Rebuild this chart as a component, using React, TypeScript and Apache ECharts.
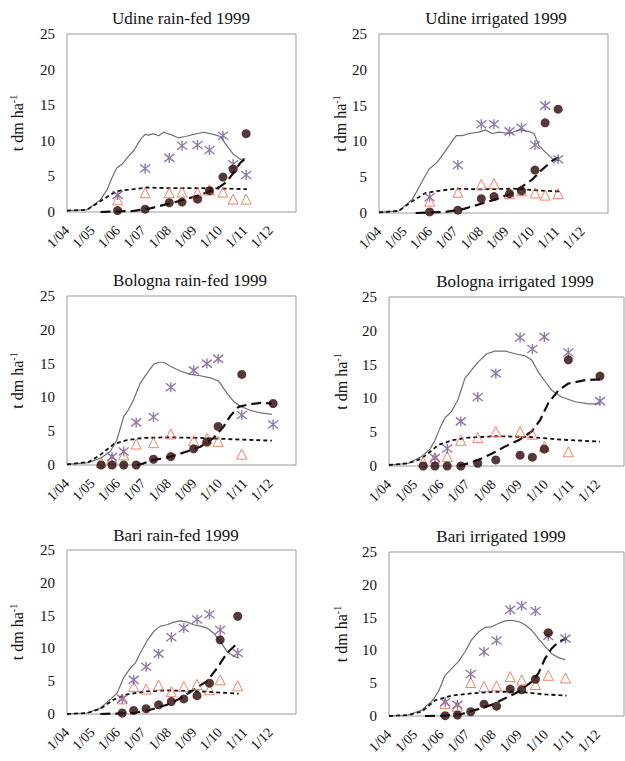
import React, { useEffect, useRef } from 'react';
import * as echarts from 'echarts';

const FONT = '"Liberation Serif", "Times New Roman", serif';
const monthLabels = ['1/04', '1/05', '1/06', '1/07', '1/08', '1/09', '1/10', '1/11', '1/12'];

// x = months after 1 April 1999, y = t dm ha-1
// ---- Udine rain-fed
const udineRfSolid = [[0,0.2],[0.78,0.3],[1.31,1.7],[1.57,3.1],[1.77,4.8],[1.96,6.2],[2.16,6.7],[2.36,7.6],[2.62,8.6],[2.89,10.2],[3.07,10.9],[3.21,10.8],[3.4,11.0],[3.6,10.7],[3.8,11.2],[4.06,10.9],[4.38,10.4],[4.65,10.6],[4.98,10.9],[5.37,11.2],[5.76,10.9],[6.03,10.6],[6.29,9.3],[6.54,8.1],[6.81,7.4],[7.01,7.5]];
const udineRfShort = [[0,0.2],[0.78,0.3],[1.31,1.5],[1.83,2.7],[2.09,3.0],[2.62,3.2],[3.14,3.45],[3.93,3.35],[5.24,3.35],[6.54,3.26],[7.07,3.2]];
const udineRfLong = [[1.32,0],[2.62,0.15],[3.27,0.5],[3.93,1.1],[4.58,1.7],[5.24,2.4],[5.76,3.1],[6.03,3.6],[6.29,4.3],[6.54,5.5],[6.81,6.9],[7.07,7.7]];
const udineRfDates = [1.99, 3.07, 4.02, 4.52, 5.13, 5.6, 6.13, 6.53, 7.04];
const udineRfStars = [2.4, 6.1, 7.6, 9.3, 9.4, 8.7, 10.7, 6.7, 5.2];
const udineRfTris = [1.7, 2.7, 2.7, 2.8, 2.7, 3.1, 2.8, 1.8, 1.8];
const udineRfDots = [0.2, 0.4, 1.3, 1.4, 1.8, 3.0, 4.9, 6.0, 11.0];

// ---- Udine irrigated
const udineIrSolid = [[0,0.1],[0.78,0.3],[1.31,1.9],[1.71,4.5],[1.96,6.1],[2.29,7.1],[2.62,8.7],[2.89,10.1],[3.04,10.8],[3.27,10.8],[3.54,11.1],[3.93,11.3],[4.19,11.6],[4.45,11.1],[4.72,11.3],[5.11,11.1],[5.5,11.6],[5.89,11.4],[6.09,11.1],[6.29,9.4],[6.54,8.5],[6.81,7.6],[7.07,7.3]];
const udineIrShort = [[0,0.1],[0.78,0.3],[1.31,1.65],[1.83,2.8],[2.36,3.1],[3.01,3.4],[3.93,3.3],[5.24,3.4],[6.54,3.1],[7.14,3.0]];
const udineIrLong = [[1.44,0],[2.62,0.15],[3.27,0.5],[3.93,1.2],[4.58,1.9],[5.24,2.8],[5.63,3.7],[6.03,4.7],[6.42,6.1],[6.81,7.3],[7.07,7.8]];
const udineIrDates = [1.99, 3.1, 4.02, 4.52, 5.13, 5.6, 6.13, 6.53, 7.04];
const udineIrStars = [2.2, 6.7, 12.4, 12.4, 11.4, 11.9, 9.5, 15.0, 7.5];
const udineIrTris = [1.65, 2.9, 4.0, 4.1, 2.7, 3.1, 2.8, 2.5, 2.7];
const udineIrDots = [0.15, 0.4, 2.0, 2.3, 2.7, 3.1, 6.0, 12.6, 14.5];

// ---- Bologna rain-fed
const bolognaRfSolid = [[0,0.1],[0.85,0.35],[1.31,1.0],[1.7,2.0],[1.96,3.7],[2.23,7.2],[2.42,8.2],[2.62,9.7],[2.88,12.1],[3.15,13.6],[3.4,14.9],[3.6,15.2],[3.8,15.2],[4.06,14.6],[4.45,13.9],[4.85,13.4],[5.24,13.2],[5.63,12.9],[5.96,12.4],[6.29,10.6],[6.55,9.4],[6.81,8.7],[7.2,8.1],[7.6,7.7],[8.05,7.5]];
const bolognaRfShort = [[0,0.1],[0.85,0.45],[1.31,1.5],[1.84,3.1],[2.36,3.7],[3.01,4.0],[3.93,4.1],[5.24,4.0],[6.55,3.8],[8.05,3.6]];
const bolognaRfLong = [[2.75,0],[3.01,0.25],[3.4,0.75],[4.06,1.2],[4.71,2.0],[5.24,2.7],[5.76,4.0],[6.16,5.7],[6.41,7.2],[6.74,8.6],[7.07,8.9],[7.6,9.2],[8.05,9.1]];
const bolognaRfStars = [[1.77,1.2],[2.23,2.0],[2.72,6.3],[3.4,7.1],[4.08,11.5],[4.98,14.0],[5.5,15.0],[5.94,15.7],[6.87,7.4],[8.1,6.0]];
const bolognaRfTris = [[1.34,0.4],[1.77,0.9],[2.23,1.5],[2.72,3.1],[3.4,3.3],[4.08,4.6],[4.98,3.6],[5.5,3.9],[5.94,3.5],[6.87,1.6]];
const bolognaRfDots = [[1.34,0],[1.77,0],[2.23,0],[2.72,0],[3.4,0.85],[4.08,1.25],[4.98,2.4],[5.5,3.4],[5.94,5.7],[6.87,13.4],[8.1,9.1]];

// ---- Bologna irrigated
const bolognaIrSolid = [[0,0.15],[0.74,0.4],[1.25,1.4],[1.57,2.5],[1.76,3.8],[1.95,5.6],[2.14,7.1],[2.38,8.0],[2.64,9.8],[2.91,13.0],[3.16,14.2],[3.42,15.4],[3.74,16.6],[4.06,17.0],[4.45,17.0],[4.83,16.6],[5.21,16.3],[5.46,15.7],[5.72,13.9],[5.98,12.5],[6.23,11.2],[6.61,10.2],[7.13,9.5],[7.64,9.2],[8.08,9.2]];
const bolognaIrShort = [[0,0.15],[0.74,0.4],[1.25,1.1],[1.89,3.1],[2.4,3.8],[3.04,4.2],[4.06,4.4],[5.34,4.3],[6.61,3.9],[8.08,3.6]];
const bolognaIrLong = [[2.66,0],[3.04,0.4],[3.42,0.9],[3.93,1.8],[4.45,2.9],[4.96,3.8],[5.46,5.1],[5.79,6.8],[6.1,9.3],[6.49,11.2],[6.87,12.2],[7.51,12.7],[8.08,12.8]];
const bolognaIrStars = [[1.76,1.2],[2.23,2.6],[2.75,6.6],[3.4,10.2],[4.09,13.7],[5.02,19.0],[5.49,17.3],[5.95,19.1],[6.87,16.8],[8.08,9.6]];
const bolognaIrTris = [[1.31,0.6],[1.76,1.2],[2.23,1.4],[2.75,3.8],[3.4,4.2],[4.09,5.1],[5.02,5.1],[5.49,4.7],[5.95,2.9],[6.87,2.1]];
const bolognaIrDots = [[1.31,0],[1.76,0],[2.23,0],[2.75,0],[3.4,0.4],[4.09,0.9],[5.02,1.6],[5.49,1.3],[5.95,2.5],[6.87,15.7],[8.08,13.3]];

// ---- Bari rain-fed
const bariRfSolid = [[0,0],[0.79,0.15],[1.31,0.9],[1.7,2.2],[1.97,3.2],[2.22,5.5],[2.49,7.0],[2.69,7.8],[2.88,9.3],[3.14,11.1],[3.41,12.6],[3.67,13.4],[3.93,13.6],[4.19,14.0],[4.46,14.2],[4.72,14.0],[4.98,13.6],[5.24,13.4],[5.5,13.1],[5.77,12.3],[6.02,11.1],[6.29,9.5],[6.56,8.8],[6.75,8.5]];
const bariRfShort = [[0,0],[0.79,0.15],[1.31,0.8],[1.83,2.2],[2.36,3.0],[3.14,3.45],[3.93,3.6],[5.24,3.45],[6.75,3.1]];
const bariRfLong = [[1.31,0],[2.62,0.15],[3.28,0.65],[3.93,1.4],[4.46,2.4],[4.98,3.7],[5.5,5.0],[5.9,7.0],[6.29,9.3],[6.56,10.3],[6.75,11.0]];
const bariRfDates = [2.17, 2.62, 3.11, 3.6, 4.1, 4.59, 5.11, 5.6, 6.02, 6.71];
const bariRfStars = [2.3, 5.2, 7.2, 9.2, 11.7, 13.1, 14.4, 15.2, 12.8, 9.3];
const bariRfTris = [2.3, 4.2, 3.8, 4.4, 3.4, 4.2, 4.5, 3.7, 5.2, 4.3];
const bariRfDots = [0.15, 0.55, 0.8, 1.4, 1.9, 2.3, 2.8, 4.7, 11.3, 14.9];

// ---- Bari irrigated
const bariIrSolid = [[0,0],[0.74,0.15],[1.25,0.9],[1.63,2.2],[1.89,3.7],[2.15,6.2],[2.46,7.5],[2.66,8.3],[2.91,9.8],[3.16,11.6],[3.42,12.8],[3.68,13.5],[3.93,13.6],[4.19,14.1],[4.45,14.5],[4.7,14.6],[4.96,14.4],[5.21,13.9],[5.46,13.1],[5.72,11.8],[5.98,10.6],[6.23,9.5],[6.49,8.9],[6.75,8.6]];
const bariIrShort = [[0,0],[0.74,0.15],[1.25,0.65],[1.77,2.4],[2.4,3.1],[3.16,3.45],[4.06,3.7],[4.96,3.7],[5.98,3.3],[6.8,3.1]];
const bariIrLong = [[1.38,0],[2.15,0.05],[2.78,0.3],[3.42,1.05],[3.93,1.7],[4.45,2.7],[4.96,3.7],[5.46,5.2],[5.72,6.5],[5.98,8.8],[6.23,10.3],[6.49,11.3],[6.8,11.8]];
const bariIrDates = [2.15, 2.62, 3.13, 3.64, 4.12, 4.64, 5.08, 5.61, 6.1, 6.76];
const bariIrStars = [2.1, 1.7, 6.4, 9.8, 11.5, 16.2, 16.8, 16.0, 12.2, 11.8];
const bariIrTris = [1.9, 1.5, 5.1, 4.5, 4.6, 6.0, 5.5, 4.8, 6.2, 5.8];
const bariIrDots = [0.05, 0.15, 0.65, 1.8, 1.5, 4.1, 4.0, 5.6, 12.7];

const zip = (xs: number[], ys: number[]) => ys.map((y, i) => [xs[i], y]);

const panels = [
  { title: 'Udine rain-fed 1999', tx: 181, ty: 10, grid: { left: 67, top: 34, width: 229, height: 178 }, gap: 41,
    solid: udineRfSolid, short: udineRfShort, long: udineRfLong, stars: zip(udineRfDates, udineRfStars), tris: zip(udineRfDates, udineRfTris), dots: zip(udineRfDates, udineRfDots) },
  { title: 'Udine irrigated 1999', tx: 496, ty: 10, grid: { left: 379, top: 34, width: 229, height: 179 }, gap: 27,
    solid: udineIrSolid, short: udineIrShort, long: udineIrLong, stars: zip(udineIrDates, udineIrStars), tris: zip(udineIrDates, udineIrTris), dots: zip(udineIrDates, udineIrDots) },
  { title: 'Bologna rain-fed 1999', tx: 190, ty: 272, grid: { left: 67, top: 296, width: 229, height: 169 }, gap: 41,
    solid: bolognaRfSolid, short: bolognaRfShort, long: bolognaRfLong, stars: bolognaRfStars, tris: bolognaRfTris, dots: bolognaRfDots },
  { title: 'Bologna irrigated 1999', tx: 515, ty: 273, grid: { left: 389, top: 297, width: 235, height: 169 }, gap: 39,
    solid: bolognaIrSolid, short: bolognaIrShort, long: bolognaIrLong, stars: bolognaIrStars, tris: bolognaIrTris, dots: bolognaIrDots },
  { title: 'Bari rain-fed 1999', tx: 176, ty: 527, grid: { left: 67, top: 550, width: 229, height: 164 }, gap: 41,
    solid: bariRfSolid, short: bariRfShort, long: bariRfLong, stars: zip(bariRfDates, bariRfStars), tris: zip(bariRfDates, bariRfTris), dots: zip(bariRfDates, bariRfDots) },
  { title: 'Bari irrigated 1999', tx: 501, ty: 528, grid: { left: 389, top: 552, width: 235, height: 164 }, gap: 39,
    solid: bariIrSolid, short: bariIrShort, long: bariIrLong, stars: zip(bariIrDates, bariIrStars), tris: zip(bariIrDates, bariIrTris), dots: zip(bariIrDates.slice(0, bariIrDots.length), bariIrDots) },
];

const STAR = 'path://M1,1L9,9M9,1L1,9M5,0L5,10';

export default function App() {
  const ref = useRef<HTMLDivElement>(null);
  useEffect(() => {
    const chart = echarts.init(ref.current!, null, { renderer: 'svg' });
    const option: any = {
      animation: false,
      backgroundColor: '#fff',
      title: panels.map(p => ({
        text: p.title, left: p.tx, top: p.ty, textAlign: 'center', padding: 0,
        textStyle: { fontFamily: FONT, fontSize: 17, fontWeight: 'normal', color: '#111' },
      })),
      grid: panels.map(p => ({ ...p.grid, show: true, borderColor: '#9a9a9a', borderWidth: 1, backgroundColor: 'transparent', containLabel: false })),
      xAxis: panels.map((p, i) => ({
        type: 'value', gridIndex: i, min: 0, max: 9, interval: 1,
        axisLine: { show: false }, axisTick: { show: false }, splitLine: { show: false },
        axisLabel: {
          rotate: 45, margin: 16, fontFamily: FONT, fontSize: 14, color: '#111', showMaxLabel: false,
          formatter: (v: number) => (Number.isInteger(v) && v >= 0 && v < monthLabels.length ? monthLabels[v] : ''),
        },
      })),
      yAxis: panels.map((p, i) => ({
        type: 'value', gridIndex: i, min: 0, max: 25, interval: 5,
        axisLine: { show: false }, axisTick: { show: false }, splitLine: { show: false },
        axisLabel: { margin: 12, fontFamily: FONT, fontSize: 15, color: '#111' },
        name: '{a|t dm ha}{b|-1}', nameLocation: 'middle', nameGap: p.gap, nameRotate: 90,
        nameTextStyle: {
          rich: {
            a: { fontFamily: FONT, fontSize: 16, color: '#111', lineHeight: 18, verticalAlign: 'middle' },
            b: { fontFamily: FONT, fontSize: 10, color: '#111', lineHeight: 18, verticalAlign: 'top' },
          },
        },
      })),
      series: panels.flatMap((p, i) => [
        { type: 'line', xAxisIndex: i, yAxisIndex: i, data: p.solid, symbol: 'none', z: 2,
          lineStyle: { color: '#707070', width: 1.2, type: 'solid' } },
        { type: 'line', xAxisIndex: i, yAxisIndex: i, data: p.short, symbol: 'none', z: 2,
          lineStyle: { color: '#111', width: 1.8, type: [4, 3] } },
        { type: 'line', xAxisIndex: i, yAxisIndex: i, data: p.long, symbol: 'none', z: 2,
          lineStyle: { color: '#111', width: 2.2, type: [10, 5] } },
        { type: 'scatter', xAxisIndex: i, yAxisIndex: i, data: p.tris, symbol: 'triangle', symbolSize: 10, z: 3,
          itemStyle: { color: 'rgba(255,255,255,0)', borderColor: '#f0643f', borderWidth: 1 } },
        { type: 'scatter', xAxisIndex: i, yAxisIndex: i, data: p.stars, symbol: STAR, symbolSize: 10, z: 4,
          itemStyle: { color: 'rgba(0,0,0,0)', borderColor: '#765894', borderWidth: 1.4 } },
        { type: 'scatter', xAxisIndex: i, yAxisIndex: i, data: p.dots, symbol: 'circle', symbolSize: 9, z: 5,
          itemStyle: { color: '#2a0808' } },
      ]),
    };
    chart.setOption(option);
    return () => chart.dispose();
  }, []);
  return <div ref={ref} style={{ position: 'fixed', left: 0, top: 0, width: 625, height: 761, background: '#fff' }} />;
}
